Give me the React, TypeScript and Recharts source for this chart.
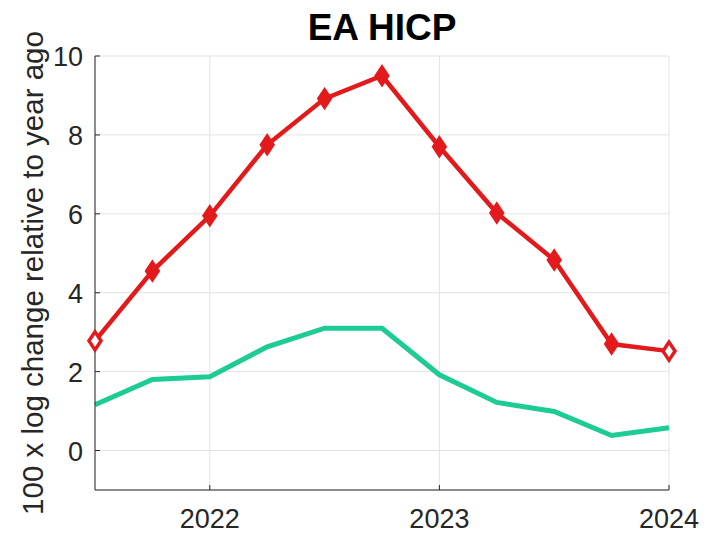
import { LineChart, Line, XAxis, YAxis, CartesianGrid } from 'recharts';

const QUARTERS = [2021.5, 2021.75, 2022, 2022.25, 2022.5, 2022.75, 2023, 2023.25, 2023.5, 2023.75, 2024];
const HEADLINE = [2.78, 4.55, 5.95, 7.75, 8.92, 9.5, 7.7, 6.02, 4.83, 2.7, 2.52];
const CORE = [1.16, 1.8, 1.87, 2.63, 3.1, 3.1, 1.92, 1.22, 0.99, 0.38, 0.58];
const X_TICKS = [2022, 2023, 2024];
const Y_TICKS = [0, 2, 4, 6, 8, 10];

const data = QUARTERS.map((t, i) => ({ t, headline: HEADLINE[i], core: CORE[i] }));

const FONT = '"Liberation Sans", Arial, Helvetica, sans-serif';
const AXIS = '#262626';
const RED = '#e31a1c';
const GREEN = '#1dcb94';

const BottomTick = (props: any) => {
    const { x, y, payload } = props;
    return (
        <g>
            <line x1={x} y1={y} x2={x} y2={y - 5} stroke={AXIS} />
            <text x={x} y={y + 38} textAnchor="middle" fontSize={27} fontFamily={FONT} fill={AXIS}>
                {payload.value}
            </text>
        </g>
    );
};

const TopTick = (props: any) => {
    const { x, y } = props;
    return <line x1={x} y1={y} x2={x} y2={y + 5} stroke={AXIS} />;
};

const LeftTick = (props: any) => {
    const { x, y, payload } = props;
    return (
        <g>
            <line x1={x} y1={y} x2={x + 5} y2={y} stroke={AXIS} />
            <text x={x - 12} y={y + 10} textAnchor="end" fontSize={27} fontFamily={FONT} fill={AXIS}>
                {payload.value}
            </text>
        </g>
    );
};

const RightTick = (props: any) => {
    const { x, y } = props;
    return <line x1={x} y1={y} x2={x - 5} y2={y} stroke={AXIS} />;
};

const Diamond = (props: any) => {
    const { cx, cy, index } = props;
    const hollow = index === 0 || index === QUARTERS.length - 1;
    const pts = `${cx},${cy - 9} ${cx + 6},${cy} ${cx},${cy + 9} ${cx - 6},${cy}`;
    return (
        <polygon
            key={`d-${index}`}
            points={pts}
            fill={hollow ? '#fff' : RED}
            stroke={RED}
            strokeWidth={hollow ? 3.5 : 3}
        />
    );
};

const YLabel = (props: any) => {
    const vb = props.viewBox;
    const cy = vb.y + vb.height / 2;
    return (
        <text
            x={43}
            y={cy}
            transform={`rotate(-90, 43, ${cy})`}
            textAnchor="middle"
            fontSize={29.5}
            fontFamily={FONT}
            fill={AXIS}
        >
            100 x log change relative to year ago
        </text>
    );
};

export default function App() {
    return (
        <div style={{ position: 'relative', width: 705, height: 534, background: '#fff' }}>
            <style>{'body{margin:0}'}</style>
            <svg width={705} height={60} style={{ position: 'absolute', left: 0, top: 0 }}>
                <text x={382} y={40} textAnchor="middle" fontSize={37} fontWeight="bold" fontFamily={FONT} fill="#000">
                    EA HICP
                </text>
            </svg>
            <LineChart width={705} height={534} data={data} margin={{ top: 56, right: 36, bottom: 0, left: 0 }}>
                <CartesianGrid stroke="#e3e3e3" strokeWidth={1} />
                <XAxis
                    dataKey="t"
                    type="number"
                    domain={[2021.5, 2024]}
                    ticks={X_TICKS}
                    height={44}
                    tickSize={0}
                    tickMargin={0}
                    tickLine={false}
                    stroke={AXIS}
                    tick={BottomTick}
                />
                <XAxis
                    xAxisId="top"
                    orientation="top"
                    dataKey="t"
                    type="number"
                    domain={[2021.5, 2024]}
                    ticks={X_TICKS}
                    height={0}
                    tickSize={0}
                    tickMargin={0}
                    tickLine={false}
                    stroke={AXIS}
                    tick={TopTick}
                />
                <YAxis
                    type="number"
                    domain={[-1, 10]}
                    ticks={Y_TICKS}
                    width={95}
                    tickSize={0}
                    tickMargin={0}
                    tickLine={false}
                    stroke={AXIS}
                    tick={LeftTick}
                    label={<YLabel />}
                />
                <YAxis
                    yAxisId="right"
                    orientation="right"
                    type="number"
                    domain={[-1, 10]}
                    ticks={Y_TICKS}
                    width={0}
                    tickSize={0}
                    tickMargin={0}
                    tickLine={false}
                    stroke={AXIS}
                    tick={RightTick}
                />
                <Line
                    dataKey="core"
                    stroke={GREEN}
                    strokeWidth={5}
                    dot={false}
                    isAnimationActive={false}
                />
                <Line
                    dataKey="headline"
                    stroke={RED}
                    strokeWidth={4.5}
                    dot={Diamond}
                    isAnimationActive={false}
                />
            </LineChart>
        </div>
    );
}
